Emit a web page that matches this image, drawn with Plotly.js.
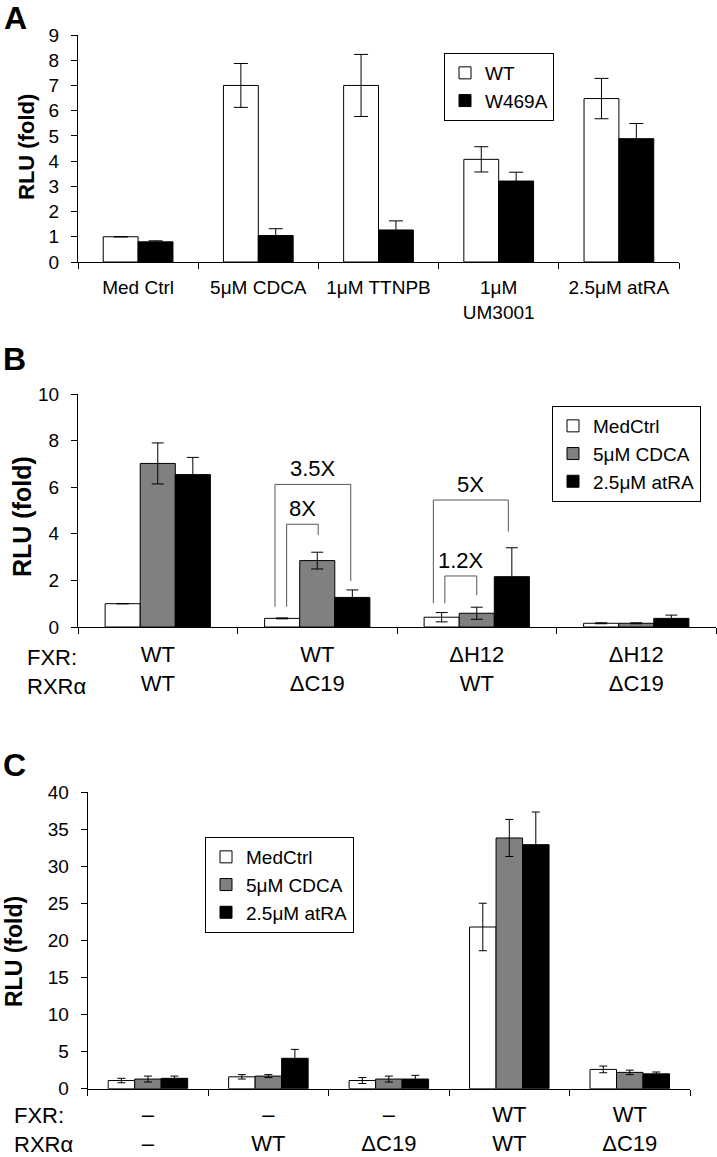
<!DOCTYPE html>
<html>
<head>
<meta charset="utf-8">
<script src="https://cdn.plot.ly/plotly-3.0.1.min.js"></script>
<style>
body { margin: 0; background: #fff; }
#chart { width: 717px; height: 1157px; }
</style>
</head>
<body>
<div id="chart"></div>
<script>
// Panel A: FXR WT vs W469A
const treatmentsA = ['Med Ctrl', '5μM CDCA', '1μM TTNPB', '1μM<br>UM3001', '2.5μM atRA'];
const wtA = [1.0, 7.0, 7.0, 4.07, 6.48];
const wtErrA = [0, 0.87, 1.23, 0.5, 0.8];
const mutA = [0.8, 1.05, 1.27, 3.21, 4.89];
const mutErrA = [0.04, 0.27, 0.36, 0.35, 0.6];

// Panel B: FXR / RXRα deletion mutants
const constructsB = ['WT<br>WT', 'WT<br>ΔC19', 'ΔH12<br>WT', 'ΔH12<br>ΔC19'];
const medB = [1.0, 0.37, 0.42, 0.16];
const medErrB = [0, 0.02, 0.2, 0.02];
const cdcaB = [7.02, 2.85, 0.59, 0.16];
const cdcaErrB = [0.88, 0.36, 0.26, 0.02];
const atraB = [6.54, 1.27, 2.16, 0.37];
const atraErrB = [0.74, 0.32, 1.24, 0.14];

// fold-change brackets in panel B (category units, RLU units)
const bracketsB = [
    {label: '3.5X', x0: 0.735, x1: 1.21, top: 6.12, y0: 0.87, y1: 1.97},
    {label: '8X', x0: 0.808, x1: 1.006, top: 4.41, y0: 0.87, y1: 3.95},
    {label: '5X', x0: 1.728, x1: 2.198, top: 5.45, y0: 1.02, y1: 4.09},
    {label: '1.2X', x0: 1.80, x1: 2.0, top: 2.19, y0: 1.02, y1: 1.37}
];

// Panel C
const constructsC = ['–<br>–', '–<br>WT', '–<br>ΔC19', 'WT<br>WT', 'WT<br>ΔC19'];
const medC = [1.1, 1.6, 1.1, 21.8, 2.6];
const medErrC = [0.3, 0.3, 0.4, 3.2, 0.45];
const cdcaC = [1.3, 1.7, 1.3, 33.8, 2.2];
const cdcaErrC = [0.4, 0.2, 0.4, 2.5, 0.3];
const atraC = [1.4, 4.1, 1.3, 32.9, 2.0];
const atraErrC = [0.3, 1.2, 0.5, 4.4, 0.25];

const FONT = 'Arial, Liberation Sans, sans-serif';
const W = 717, H = 1157;
const px = v => v / W;
const py = v => 1 - v / H;

function barTrace(name, x, y, err, color, xa, ya, legend, cap, extra) {
    return Object.assign({
        type: 'bar', name: name, x: x, y: y,
        xaxis: xa, yaxis: ya, legend: legend,
        marker: {color: color, line: {color: 'black', width: 1}},
        error_y: {type: 'data', array: err, visible: true, color: 'black', thickness: 1, width: cap}
    }, extra || {});
}

const traces = [
    barTrace('WT', treatmentsA, wtA, wtErrA, 'white', 'x', 'y', 'legend', 7, {width: 0.29, offset: -0.29}),
    barTrace('W469A', treatmentsA, mutA, mutErrA, 'black', 'x', 'y', 'legend', 7, {width: 0.29, offset: 0}),
    barTrace('MedCtrl', constructsB, medB, medErrB, 'white', 'x2', 'y2', 'legend2', 6),
    barTrace('5μM CDCA', constructsB, cdcaB, cdcaErrB, '#808080', 'x2', 'y2', 'legend2', 6),
    barTrace('2.5μM atRA', constructsB, atraB, atraErrB, 'black', 'x2', 'y2', 'legend2', 6),
    barTrace('MedCtrl', constructsC, medC, medErrC, 'white', 'x3', 'y3', 'legend3', 4),
    barTrace('5μM CDCA', constructsC, cdcaC, cdcaErrC, '#808080', 'x3', 'y3', 'legend3', 4),
    barTrace('2.5μM atRA', constructsC, atraC, atraErrC, 'black', 'x3', 'y3', 'legend3', 4)
];

function xAxis(domain, anchor, n, size, standoff) {
    return {
        domain: domain, anchor: anchor, type: 'category', range: [-0.5, n - 0.5],
        showline: true, linecolor: 'black', linewidth: 1,
        ticks: 'outside', tickson: 'boundaries', ticklen: 6, tickcolor: 'black',
        tickfont: {size: size, color: 'black'}, ticklabelstandoff: standoff,
        showgrid: false, fixedrange: true
    };
}

function yAxis(domain, anchor, range, dtick) {
    return {
        domain: domain, anchor: anchor, range: range, dtick: dtick,
        showline: true, linecolor: 'black', linewidth: 1,
        ticks: 'outside', ticklen: 6, tickcolor: 'black',
        tickfont: {size: 19, color: 'black'}, ticklabelstandoff: 8,
        showgrid: false, zeroline: false, fixedrange: true
    };
}

function legendBox(x, y) {
    return {
        x: x, y: y, xanchor: 'left', yanchor: 'top',
        bordercolor: 'black', borderwidth: 1, bgcolor: 'white',
        font: {size: 19, color: 'black'}, itemwidth: 30, traceorder: 'normal'
    };
}

const shapes = [];
const annotations = [];

bracketsB.forEach(b => {
    shapes.push({
        type: 'path', xref: 'x2', yref: 'y2',
        path: `M${b.x0},${b.y0} L${b.x0},${b.top} L${b.x1},${b.top} L${b.x1},${b.y1}`,
        line: {color: '#555', width: 1}
    });
    annotations.push({
        xref: 'x2', yref: 'y2', x: (b.x0 + b.x1) / 2, y: b.top,
        text: b.label, showarrow: false, xanchor: 'center', yanchor: 'bottom', yshift: 1,
        font: {size: 22, color: 'black'}
    });
});

// panel letters
[['A', 15, 18], ['B', 14, 359], ['C', 14, 765]].forEach(([t, x, y]) => {
    annotations.push({xref: 'paper', yref: 'paper', x: px(x), y: py(y), text: '<b>' + t + '</b>',
        xanchor: 'center', yanchor: 'middle', showarrow: false, font: {size: 32, color: 'black'}});
});

// y axis titles
[[26, 147, 22], [22, 517, 25], [14, 952, 23]].forEach(([x, y, s]) => {
    annotations.push({xref: 'paper', yref: 'paper', x: px(x), y: py(y), text: '<b>RLU (fold)</b>',
        textangle: -90, xanchor: 'center', yanchor: 'middle', showarrow: false, font: {size: s, color: 'black'}});
});

// row labels of the construct tables
[[25, 672], [12, 1130]].forEach(([x, y]) => {
    annotations.push({xref: 'paper', yref: 'paper', x: px(x), y: py(y), xanchor: 'left', yanchor: 'middle',
        text: 'FXR:<br>RXRα', align: 'left', showarrow: false, font: {size: 22, color: 'black'}});
});

const layout = {
    width: W, height: H,
    margin: {l: 0, r: 0, t: 0, b: 0},
    paper_bgcolor: 'white', plot_bgcolor: 'white',
    font: {family: FONT, color: 'black'},
    barmode: 'group', bargap: 0.34, bargroupgap: 0,
    xaxis: xAxis([px(78), px(679)], 'y', treatmentsA.length, 19, 8),
    yaxis: yAxis([py(262), py(35)], 'x', [0, 9], 1),
    xaxis2: xAxis([px(78), px(716)], 'y2', constructsB.length, 22, 8),
    yaxis2: yAxis([py(627), py(394)], 'x2', [0, 10], 2),
    xaxis3: xAxis([px(87.7), px(690)], 'y3', constructsC.length, 22, 6),
    yaxis3: yAxis([py(1088.7), py(792)], 'x3', [0, 40], 5),
    legend: legendBox(px(444), py(53)),
    legend2: legendBox(px(552), py(406)),
    legend3: legendBox(px(205), py(837)),
    shapes: shapes,
    annotations: annotations
};

Plotly.newPlot('chart', traces, layout, {displayModeBar: false, staticPlot: true});
</script>
</body>
</html>
